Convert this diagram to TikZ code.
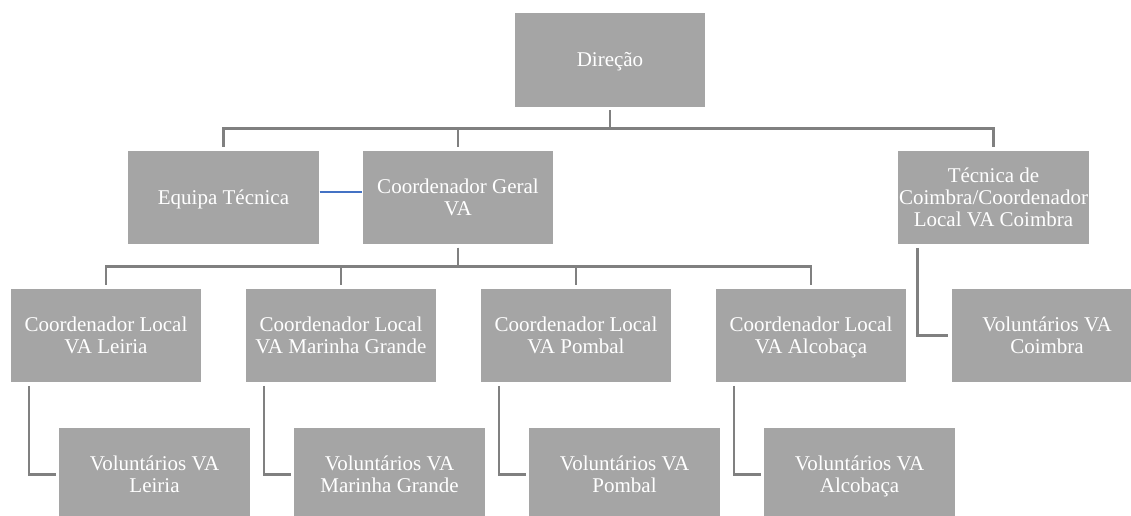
\documentclass[tikz,border=0pt]{standalone}
\usepackage{fontspec}
\setmainfont{Liberation Serif}
\definecolor{boxgray}{HTML}{A5A5A5}
\definecolor{linegray}{HTML}{808080}
\definecolor{linkblue}{HTML}{4472C4}
\newcommand\topstrut{\rule{0pt}{15.35pt}}
\begin{document}
\begin{tikzpicture}[x=0.75pt,y=-0.75pt,
  box/.style={rectangle, fill=boxgray, draw=white, line width=0.6pt,
    minimum width=143.5pt, minimum height=71pt, inner sep=0pt,
    align=center, text=white, font=\fontsize{15.75}{16.5}\selectfont,
    execute at begin node=\topstrut, execute at end node=\strut},
  conn/.style={draw=linegray, line width=2pt, shorten <=2pt, shorten >=2pt},
  link/.style={draw=linkblue, line width=1.1pt},
]
\clip (0,0) rectangle (1131,515);
% level 1
\node[box] (dir) at (610,60) {Direção};
% level 2
\node[box] (equipa) at (223.5,197.5) {Equipa Técnica};
\node[box] (coord) at (458,197.5) {\topstrut Coordenador Geral\\VA};
\node[box] (tecnica) at (993.5,197.5) {\topstrut Técnica de\\Coimbra/Coordenador\\Local VA Coimbra};
% level 3
\node[box] (cla) at (106,335.5) {\topstrut Coordenador Local\\VA Leiria};
\node[box] (clb) at (341,335.5) {\topstrut Coordenador Local\\VA Marinha Grande};
\node[box] (clc) at (576,335.5) {\topstrut Coordenador Local\\VA Pombal};
\node[box] (cld) at (811,335.5) {\topstrut Coordenador Local\\VA Alcobaça};
\node[box] (vce) at (1047,335.5) {\topstrut Voluntários VA\\Coimbra};
% level 4
\node[box] (vla) at (154.5,474.5) {\topstrut Voluntários VA\\Leiria};
\node[box] (vlb) at (389.5,474.5) {\topstrut Voluntários VA\\Marinha Grande};
\node[box] (vlc) at (624.5,474.5) {\topstrut Voluntários VA\\Pombal};
\node[box] (vld) at (859.5,474.5) {\topstrut Voluntários VA\\Alcobaça};
% connectors
\draw[conn] (dir.south) -- ++(0,21) -| (equipa.north);
\draw[conn] (dir.south) -- ++(0,21) -| (coord.north);
\draw[conn] (dir.south) -- ++(0,21) -| (tecnica.north);
\draw[conn] (coord.south) -- ++(0,21) -| (cla.north);
\draw[conn] (coord.south) -- ++(0,21) -| (clb.north);
\draw[conn] (coord.south) -- ++(0,21) -| (clc.north);
\draw[conn] (coord.south) -- ++(0,21) -| (cld.north);
\draw[conn] ([xshift=14.25pt]cla.south west) |- (vla.west);
\draw[conn] ([xshift=14.25pt]clb.south west) |- (vlb.west);
\draw[conn] ([xshift=14.25pt]clc.south west) |- (vlc.west);
\draw[conn] ([xshift=14.25pt]cld.south west) |- (vld.west);
\draw[conn] ([xshift=15pt]tecnica.south west) |- (vce.west);
\draw[link] ([yshift=4pt]equipa.east) -- ([yshift=4pt]coord.west);
\end{tikzpicture}
\end{document}
